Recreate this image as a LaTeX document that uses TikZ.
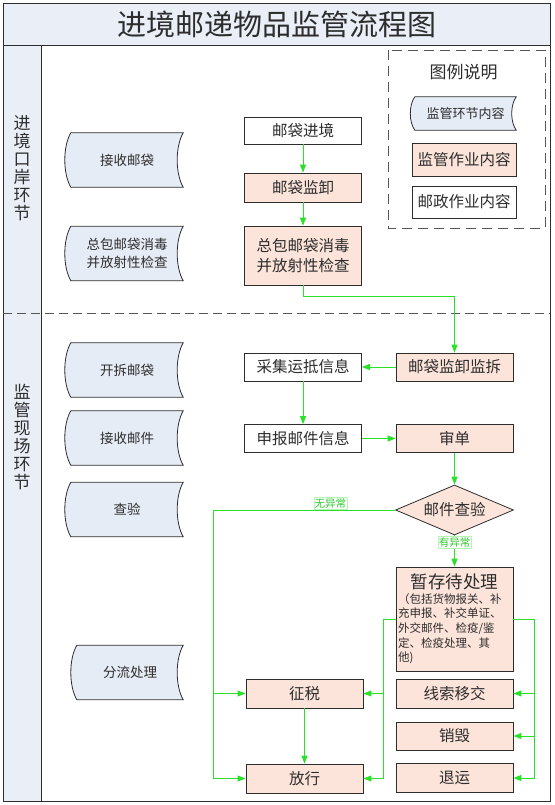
\documentclass[tikz,border=0pt]{standalone}
\usepackage{fontspec}
\setmainfont{Noto Sans CJK SC}
\usetikzlibrary{arrows.meta,shapes.geometric,calc}
\pgfdeclarelayer{bg}
\pgfsetlayers{bg,main}
\definecolor{pinkf}{RGB}{252,228,218}
\definecolor{bluef}{RGB}{230,236,246}
\definecolor{bandf}{RGB}{233,238,247}
\definecolor{flowg}{RGB}{40,225,40}
\definecolor{lblg}{RGB}{45,200,45}
\definecolor{txt}{RGB}{45,45,45}
\definecolor{edge}{RGB}{45,45,45}
\definecolor{dashc}{RGB}{85,85,85}
\newcommand\fs[2]{\fontsize{#1}{#2}\selectfont}
\newcommand\sdpath[2]{%
  \path[sdshape] let \p1=(#1.north west), \p2=(#1.south east) in
    (\x1,\y1) .. controls ({\x1-#2},{\y1-0.25*(\y1-\y2)}) and ({\x1-#2},{\y2+0.25*(\y1-\y2)}) .. (\x1,\y2)
    -- (\x2,\y2) .. controls ({\x2-#2},{\y2+0.25*(\y1-\y2)}) and ({\x2-#2},{\y1-0.25*(\y1-\y2)}) .. (\x2,\y1) -- cycle;}
\tikzset{
  box/.style={draw=edge, line width=0.8pt, minimum width=117pt, minimum height=28pt, inner sep=0pt, text=txt, font=\fs{15.5}{20}, align=center},
  wbox/.style={box, fill=white},
  pbox/.style={box, fill=pinkf},
  sdnode/.style={minimum width=112pt, minimum height=54pt, inner sep=0pt, text=txt, font=\fs{13.5}{18}, align=center},
  sdshape/.style={draw=edge, line width=0.8pt, fill=bluef},
  flow/.style={draw=flowg, line width=0.9pt, -{Triangle[length=8pt,width=6pt]}},
  flowline/.style={draw=flowg, line width=0.9pt},
  lbl/.style={fill=white, draw=flowg!35, line width=0.4pt, text=lblg, font=\fs{10.5}{12}, inner sep=1pt},
  frame/.style={draw=edge, line width=0.9pt},
  sectdash/.style={draw=dashc, line width=0.8pt, dash pattern=on 9pt off 5pt},
  legdash/.style={draw=dashc, line width=0.9pt, dash pattern=on 10pt off 6pt},
  vlabel/.style={font=\fs{17}{18}, text=txt, align=center, inner sep=0pt}
}
\begin{document}
\begin{tikzpicture}[x=1pt,y=-1pt]
\useasboundingbox (0,0) rectangle (554,805);
% frame and bands
\fill[bandf] (3,3) rectangle (550,45);
\fill[bandf] (3,45) rectangle (41,801);
\draw[frame] (3,3) rectangle (550,801);
\draw[frame] (3,45) -- (550,45);
\draw[frame] (41,45) -- (41,801);
\draw[sectdash] (3,313) -- (550,313);
\node[font=\fs{29}{34}, text=txt] (title) at (276.5,24) {进境邮递物品监管流程图};
\node[vlabel] (s1) at (22,168) {进\\境\\口\\岸\\环\\节};
\node[vlabel] (s2) at (22,437) {监\\管\\现\\场\\环\\节};
% legend
\draw[legdash] (388,50) rectangle (545,228);
\node[font=\fs{17}{20}, text=txt] (lgt) at (463.5,72) {图例说明};
\node[sdnode, minimum width=101pt, minimum height=33pt, font=\fs{13}{16}] (lg1) at (465.5,113.5) {监管环节内容};
\node[pbox, minimum width=104pt, minimum height=33pt] (lg2) at (464,159.5) {监管作业内容};
\node[wbox, minimum width=104pt, minimum height=32pt] (lg3) at (464,202) {邮政作业内容};
% left blue shapes
\node[sdnode] (a1) at (127,160) {接收邮袋};
\node[sdnode] (a2) at (127,253.5) {总包邮袋消毒\\并放射性检查};
\node[sdnode] (a3) at (127,370) {开拆邮袋};
\node[sdnode] (a4) at (127,438) {接收邮件};
\node[sdnode] (a5) at (127,509.5) {查验};
\node[sdnode, minimum width=106pt] (a6) at (130,672.5) {分流处理};
\begin{pgfonlayer}{bg}
\sdpath{lg1}{6pt}
\sdpath{a1}{8pt}
\sdpath{a2}{8pt}
\sdpath{a3}{8pt}
\sdpath{a4}{8pt}
\sdpath{a5}{8pt}
\sdpath{a6}{8pt}
\end{pgfonlayer}
% flow boxes
\node[wbox, minimum height=27pt] (b1) at (303,130.5) {邮袋进境};
\node[pbox, minimum height=29pt] (b2) at (303,187.5) {邮袋监卸};
\node[pbox, minimum height=59pt] (b3) at (303,255.5) {总包邮袋消毒\\并放射性检查};
\node[pbox] (c1) at (454.5,367) {邮袋监卸监拆};
\node[wbox] (c2) at (303,367) {采集运抵信息};
\node[wbox] (c3) at (303,438.5) {申报邮件信息};
\node[pbox] (c4) at (454.5,438.5) {审单};
\node[diamond, aspect=2.36, draw=edge, line width=0.8pt, fill=pinkf, minimum width=118pt, minimum height=50pt, inner sep=0pt, text=txt, font=\fs{15.5}{20}] (d) at (454.5,510) {邮件查验};
\node[pbox, minimum height=104pt] (e) at (454.5,619) {};
\node[font=\fs{17.5}{20}, text=txt, inner sep=0pt] (et) at (454.5,582) {暂存待处理};
\node[anchor=north west, text width=114pt, align=left, font=\fs{11.5}{14.7}, text=txt, inner sep=0pt] (es) at (398,593) {（包括货物报关、补\\充申报、补交单证、\\外交邮件、检疫/鉴\\定、检疫处理、其\\他)};
\node[pbox, minimum height=29pt] (f1) at (304.5,693.5) {征税};
\node[pbox, minimum height=29pt] (f2) at (304.5,778.5) {放行};
\node[pbox, minimum height=29pt] (g1) at (454.5,693.5) {线索移交};
\node[pbox, minimum height=28pt] (g2) at (454.5,736) {销毁};
\node[pbox, minimum height=29pt] (g3) at (454.5,778) {退运};
% connectors
\draw[flow] (b1) -- (b2);
\draw[flow] (b2) -- (b3);
\draw[flow] (b3.south) -- ++(0,11) -| (c1.north);
\draw[flow] (c1) -- (c2);
\draw[flow] (c2) -- (c3);
\draw[flow] (c3) -- (c4);
\draw[flow] (c4) -- (d);
\coordinate (lx) at (213,510);
\draw[flow] (d.west) -- node[lbl, anchor=south, pos=0.355, yshift=0.5pt] (n1) {无异常} (lx) |- (f2.west);
\draw[flow] (lx |- f1.west) -- (f1.west);
\draw[flow] (d.south) -- node[lbl, pos=0.22] (n2) {有异常} (e.north);
\draw[flow] (e.west) -- ++(-12,0) |- (f2.east);
\draw[flow] ($(e.west)+(-12,0)$) |- (f1.east);
\draw[flow] (e.east) -- ++(21,0) |- (g3.east);
\draw[flow] ($(e.east)+(21,0)$) |- (g1.east);
\draw[flow] ($(e.east)+(21,0)$) |- (g2.east);
\draw[flow] (f1) -- (f2);
\end{tikzpicture}
\end{document}
